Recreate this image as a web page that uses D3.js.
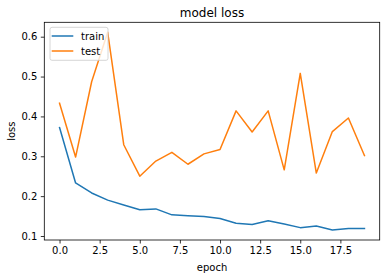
<!DOCTYPE html>
<html><head><meta charset="utf-8">
<script src="https://cdn.jsdelivr.net/npm/d3@7"></script>
<style>body{margin:0;background:#fff}svg{display:block}text{font-family:"DejaVu Sans",sans-serif;fill:#000}</style>
</head><body><svg id="c" width="386" height="278"></svg>
<script>
const epochs = d3.range(20);
const train = [0.372,0.233,0.208,0.190,0.178,0.166,0.168,0.153,0.151,0.149,0.144,0.132,0.129,0.138,0.130,0.121,0.125,0.115,0.119,0.119];
const test = [0.433,0.298,0.487,0.611,0.329,0.250,0.288,0.310,0.280,0.306,0.317,0.414,0.361,0.414,0.266,0.508,0.258,0.362,0.396,0.302];
const xTicks = [0.0,2.5,5.0,7.5,10.0,12.5,15.0,17.5];
const yTicks = [0.1,0.2,0.3,0.4,0.5,0.6];
const seriesNames = ["train","test"];
const colors = ["#1f77b4","#ff7f0e"];

const L=44.3, R=379.7, T=22.3, B=240;
const svg=d3.select("#c");
const x=d3.scaleLinear().domain([-0.95,19.95]).range([L,R]);
const y=d3.scaleLinear().domain([0.1,0.6]).range([236,36.7]);

const xa=svg.append("g").attr("transform",`translate(0,${B})`).call(d3.axisBottom(x).tickValues(xTicks).tickFormat(d3.format(".1f")).tickSize(3.5).tickPadding(3.5));
const ya=svg.append("g").attr("transform",`translate(${L},0)`).call(d3.axisLeft(y).tickValues(yTicks).tickFormat(d3.format(".1f")).tickSize(3.5).tickPadding(3.5));
[xa,ya].forEach(a=>{a.select(".domain").remove();a.selectAll("line").attr("stroke","#000").attr("stroke-width",0.8);a.selectAll("text").attr("font-size",10).attr("font-family","DejaVu Sans").attr("fill","#000");});

const line=d3.line().x((d,i)=>x(epochs[i])).y(d=>y(d));
[train,test].forEach((s,k)=>svg.append("path").datum(s).attr("d",line).attr("fill","none").attr("stroke",colors[k]).attr("stroke-width",1.5).attr("stroke-linejoin","round").attr("stroke-linecap","square"));

svg.append("rect").attr("x",L).attr("y",T).attr("width",R-L).attr("height",B-T).attr("fill","none").attr("stroke","#000").attr("stroke-width",0.8);

svg.append("text").attr("x",(L+R)/2).attr("y",17).attr("text-anchor","middle").attr("font-size",12).text("model loss");
svg.append("text").attr("x",(L+R)/2).attr("y",271).attr("text-anchor","middle").attr("font-size",10).text("epoch");
svg.append("text").attr("transform",`translate(15,${(T+B)/2}) rotate(-90)`).attr("text-anchor","middle").attr("font-size",10).text("loss");

const lg=svg.append("g");
lg.append("rect").attr("x",50).attr("y",27.3).attr("width",58).attr("height",33).attr("rx",2).attr("fill","#fff").attr("fill-opacity",0.8).attr("stroke","#ccc").attr("stroke-width",0.8);
seriesNames.forEach((n,k)=>{
  const yy=36+k*15;
  lg.append("line").attr("x1",51.7).attr("x2",73.3).attr("y1",yy).attr("y2",yy).attr("stroke",colors[k]).attr("stroke-width",1.5);
  lg.append("text").attr("x",81).attr("y",yy+3.5).attr("font-size",10).text(n);
});
</script></body></html>
